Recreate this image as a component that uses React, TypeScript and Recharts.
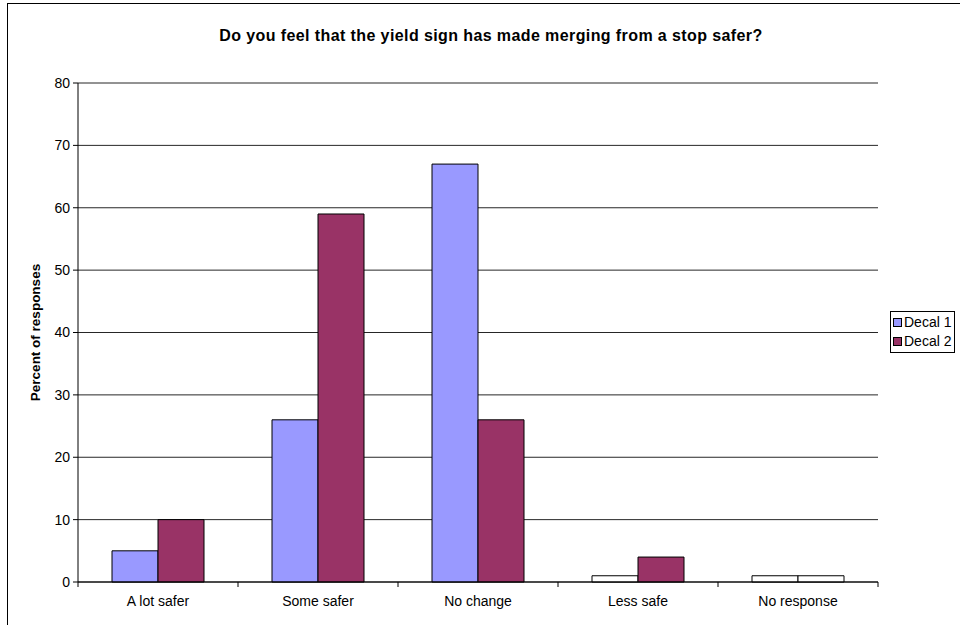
import React from "react";
import { BarChart, Bar, XAxis, YAxis, CartesianGrid, Legend, Cell } from "recharts";

const categories = ["A lot safer", "Some safer", "No change", "Less safe", "No response"];
const decal1 = [5, 26, 67, 1, 1];
const decal2 = [10, 59, 26, 4, 1];
const yTicks = [0, 10, 20, 30, 40, 50, 60, 70, 80];
const seriesNames = ["Decal 1", "Decal 2"];

const title = "Do you feel that the yield sign has made merging from a stop safer?";
const yLabel = "Percent of responses";

// style constants
const colors = ["#9999FF", "#993366"];
const whiteDecal1 = ["Less safe", "No response"];
const whiteDecal2 = ["No response"];
const FONT = "'Liberation Sans', Arial, sans-serif";

const W = 960;
const H = 625;
const margin = { top: 83, right: 82, bottom: 13, left: 38 };
const yAxisWidth = 40;
const xAxisHeight = 30;
const plotWidth = W - margin.left - margin.right - yAxisWidth;
const band = plotWidth / categories.length;

const data = categories.map((c, i) => ({ name: c, d1: decal1[i], d2: decal2[i] }));

const XTick = (props: any) => {
  const { x, y, payload, index } = props;
  return (
    <g>
      <line x1={x + band / 2} x2={x + band / 2} y1={y} y2={y + 5} stroke="#000" />
      {index === 0 && <line x1={x - band / 2} x2={x - band / 2} y1={y} y2={y + 5} stroke="#000" />}
      <text x={x} y={y + 24} textAnchor="middle" fontFamily={FONT} fontSize={14} fill="#000">
        {payload.value}
      </text>
    </g>
  );
};

const LegendBox = () => (
  <div
    style={{
      border: "1px solid #000",
      background: "#fff",
      padding: "1px 2px 1px 2px",
      fontFamily: FONT,
      fontSize: 14,
      color: "#000",
      lineHeight: "19px",
      width: 65,
      boxSizing: "border-box",
      whiteSpace: "nowrap",
    }}
  >
    {seriesNames.map((n, i) => (
      <div key={n} style={{ display: "flex", alignItems: "center", whiteSpace: "nowrap" }}>
        <span
          style={{
            display: "inline-block",
            flex: "0 0 auto",
            width: 7,
            height: 7,
            border: "1px solid #000",
            background: colors[i],
            marginRight: 2,
          }}
        />
        <span>{n}</span>
      </div>
    ))}
  </div>
);

export default function App() {
  return (
    <div
      style={{
        position: "absolute",
        left: 0,
        top: 0,
        width: W,
        height: H,
        overflow: "hidden",
        background: "#fff",
      }}
    >
      <div
        style={{
          position: "absolute",
          left: 7,
          top: 3,
          width: 1100,
          height: 800,
          border: "1px solid #000",
          boxSizing: "border-box",
        }}
      />
      <svg
        width={W}
        height={60}
        style={{ position: "absolute", left: 0, top: 0, pointerEvents: "none" }}
      >
        <text
          x={491}
          y={41}
          textAnchor="middle"
          fontFamily={FONT}
          fontWeight="bold"
          fontSize={16}
          letterSpacing={0.4}
          fill="#000"
        >
          {title}
        </text>
      </svg>
      <div style={{ position: "absolute", left: 0, top: 0 }}>
        <BarChart
          width={W}
          height={H}
          data={data}
          margin={margin}
          barCategoryGap={34}
          barGap={0}
        >
          <CartesianGrid vertical={false} stroke="#000" strokeOpacity={0.85} />
          <XAxis
            dataKey="name"
            height={xAxisHeight}
            tickSize={0}
            tickMargin={0}
            tickLine={false}
            axisLine={{ stroke: "#000" }}
            tick={<XTick />}
            interval={0}
          />
          <YAxis
            width={yAxisWidth}
            domain={[0, 80]}
            ticks={yTicks}
            interval={0}
            tickSize={5}
            tickMargin={3}
            axisLine={{ stroke: "#000" }}
            tickLine={{ stroke: "#000" }}
            tick={{ fontFamily: FONT, fontSize: 14, fill: "#000" }}
            label={{
              content: (p: any) => {
                const vb = p.viewBox || { x: 38, y: 83, width: 40, height: 499 };
                const cx = vb.x + 2;
                const cy = vb.y + vb.height / 2;
                return (
                  <text
                    x={cx}
                    y={cy}
                    transform={`rotate(-90 ${cx} ${cy})`}
                    textAnchor="middle"
                    fontFamily={FONT}
                    fontWeight="bold"
                    fontSize={13.5}
                    fill="#000"
                  >
                    {yLabel}
                  </text>
                );
              },
            }}
          />
          <Legend
            layout="vertical"
            align="center"
            verticalAlign="middle"
            wrapperStyle={{ position: "absolute", left: 890, top: 311, width: 65 }}
            content={<LegendBox />}
          />
          <Bar dataKey="d1" name={seriesNames[0]} fill={colors[0]} stroke="#000" strokeWidth={1} isAnimationActive={false}>
            {data.map((d) => (
              <Cell key={d.name} fill={whiteDecal1.includes(d.name) ? "#fff" : colors[0]} />
            ))}
          </Bar>
          <Bar dataKey="d2" name={seriesNames[1]} fill={colors[1]} stroke="#000" strokeWidth={1} isAnimationActive={false}>
            {data.map((d) => (
              <Cell key={d.name} fill={whiteDecal2.includes(d.name) ? "#fff" : colors[1]} />
            ))}
          </Bar>
        </BarChart>
      </div>
    </div>
  );
}
